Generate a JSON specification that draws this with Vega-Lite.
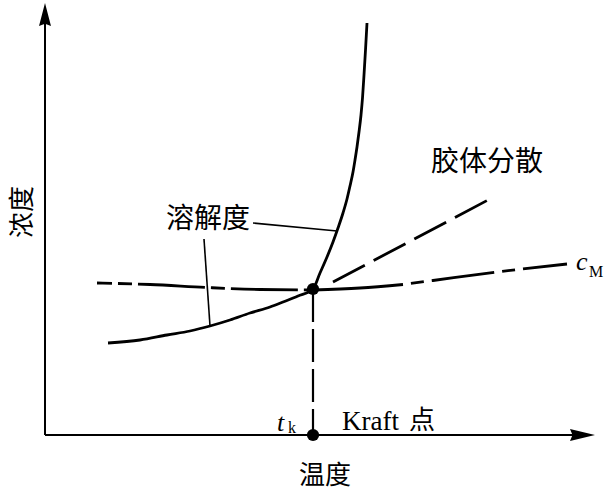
{
  "$schema": "https://vega.github.io/schema/vega-lite/v6.json",
  "width": 612,
  "height": 495,
  "padding": 0,
  "autosize": {"type": "fit", "contains": "padding"},
  "background": "white",
  "config": {"view": {"stroke": null}},
  "datasets": {
    "sol": [
      {"x": 108, "y": 343}, {"x": 140, "y": 340}, {"x": 167, "y": 335}, {"x": 190, "y": 331},
      {"x": 210, "y": 326}, {"x": 230, "y": 320}, {"x": 250, "y": 313}, {"x": 270, "y": 307},
      {"x": 283, "y": 302}, {"x": 298, "y": 296}, {"x": 313, "y": 289}, {"x": 320, "y": 273},
      {"x": 327, "y": 257}, {"x": 333, "y": 242}, {"x": 338, "y": 228}, {"x": 343, "y": 213},
      {"x": 347, "y": 199}, {"x": 350, "y": 186}, {"x": 353, "y": 172}, {"x": 355, "y": 160},
      {"x": 357, "y": 147}, {"x": 359, "y": 132}, {"x": 361, "y": 115}, {"x": 362.5, "y": 98},
      {"x": 364, "y": 75}, {"x": 365.5, "y": 50}, {"x": 367, "y": 23}
    ],
    "cm": [
      {"x": 97, "y": 283, "seg": "left"}, {"x": 150, "y": 284.5, "seg": "left"}, {"x": 207, "y": 287.5, "seg": "left"},
      {"x": 260, "y": 289.5, "seg": "left"}, {"x": 313, "y": 290, "seg": "left"},
      {"x": 313, "y": 290, "seg": "mid"}, {"x": 360, "y": 288, "seg": "mid"}, {"x": 403, "y": 284.5, "seg": "mid"},
      {"x": 403, "y": 284.5, "seg": "right"}, {"x": 433, "y": 280.5, "seg": "right"}, {"x": 497, "y": 272, "seg": "right"},
      {"x": 567, "y": 264, "seg": "right"}
    ],
    "colloid": [{"x": 333, "y": 282}, {"x": 488, "y": 200}],
    "rules": [
      {"x": 45, "y": 435, "x2": 45, "y2": 20, "kind": "axis"},
      {"x": 45, "y": 435, "x2": 575, "y2": 435, "kind": "axis"},
      {"x": 253, "y": 223, "x2": 337, "y2": 231, "kind": "leader"},
      {"x": 204, "y": 239, "x2": 210, "y2": 326, "kind": "leader"},
      {"x": 313, "y": 289, "x2": 313, "y2": 435, "kind": "drop"}
    ],
    "dots": [{"x": 313, "y": 289}, {"x": 313, "y": 435}],
    "arrowUp": [{"x": 45, "y": 14.5}],
    "arrowRight": [{"x": 582.5, "y": 435}],
    "ylab": [{"x": 23, "y": 212, "label": "浓度"}],
    "cjkBig": [
      {"x": 487, "y": 163, "label": "胶体分散"},
      {"x": 208, "y": 220, "label": "溶解度"}
    ],
    "cjkSmall": [
      {"x": 325, "y": 476, "label": "温度"},
      {"x": 422, "y": 421, "label": "点"}
    ],
    "roman": [{"x": 342, "y": 430, "label": "Kraft"}],
    "italic": [{"x": 576, "y": 270, "label": "c"}, {"x": 277, "y": 431, "label": "t"}],
    "subs": [{"x": 589, "y": 277, "label": "M"}, {"x": 288, "y": 433, "label": "k"}]
  },
  "encoding": {
    "x": {"field": "x", "type": "quantitative", "scale": {"domain": [0, 612], "nice": false, "zero": false}, "axis": null},
    "y": {"field": "y", "type": "quantitative", "scale": {"domain": [0, 495], "nice": false, "zero": false, "reverse": true}, "axis": null}
  },
  "layer": [
    {
      "data": {"name": "rules"},
      "transform": [{"filter": "datum.kind === 'axis'"}],
      "mark": {"type": "rule", "color": "black", "strokeWidth": 2},
      "encoding": {"x2": {"field": "x2"}, "y2": {"field": "y2"}}
    },
    {
      "data": {"name": "rules"},
      "transform": [{"filter": "datum.kind === 'leader'"}],
      "mark": {"type": "rule", "color": "black", "strokeWidth": 1.6},
      "encoding": {"x2": {"field": "x2"}, "y2": {"field": "y2"}}
    },
    {
      "data": {"name": "rules"},
      "transform": [{"filter": "datum.kind === 'drop'"}],
      "mark": {"type": "rule", "color": "black", "strokeWidth": 2.2, "strokeDash": [33, 7]},
      "encoding": {"x2": {"field": "x2"}, "y2": {"field": "y2"}}
    },
    {
      "data": {"name": "sol"},
      "mark": {"type": "line", "color": "black", "strokeWidth": 2.8, "interpolate": "monotone"}
    },
    {
      "data": {"name": "cm"},
      "transform": [{"filter": "datum.seg === 'left'"}],
      "mark": {"type": "line", "color": "black", "strokeWidth": 2.8, "interpolate": "monotone", "strokeDash": [67, 6, 14, 6], "strokeDashOffset": 52}
    },
    {
      "data": {"name": "cm"},
      "transform": [{"filter": "datum.seg === 'mid'"}],
      "mark": {"type": "line", "color": "black", "strokeWidth": 2.8, "interpolate": "monotone"}
    },
    {
      "data": {"name": "cm"},
      "transform": [{"filter": "datum.seg === 'right'"}],
      "mark": {"type": "line", "color": "black", "strokeWidth": 2.8, "interpolate": "monotone", "strokeDash": [63, 8, 13, 8], "strokeDashOffset": 63}
    },
    {
      "data": {"name": "colloid"},
      "mark": {"type": "line", "color": "black", "strokeWidth": 2.8, "strokeDash": [36, 10]}
    },
    {
      "data": {"name": "dots"},
      "mark": {"type": "point", "filled": true, "color": "black", "opacity": 1, "size": 150}
    },
    {
      "data": {"name": "arrowUp"},
      "mark": {"type": "point", "filled": true, "color": "black", "opacity": 1, "size": 529, "shape": "M0,-1L0.52,1L0,0.8L-0.52,1Z"}
    },
    {
      "data": {"name": "arrowRight"},
      "mark": {"type": "point", "filled": true, "color": "black", "opacity": 1, "size": 625, "shape": "M1,0L-1,-0.48L-0.8,0L-1,0.48Z"}
    },
    {
      "data": {"name": "ylab"},
      "mark": {"type": "text", "font": "Noto Sans CJK SC", "fontSize": 26, "angle": 270, "align": "center", "baseline": "middle", "color": "black"},
      "encoding": {"text": {"field": "label"}}
    },
    {
      "data": {"name": "cjkBig"},
      "mark": {"type": "text", "font": "Noto Sans CJK SC", "fontSize": 28, "align": "center", "baseline": "middle", "color": "black"},
      "encoding": {"text": {"field": "label"}}
    },
    {
      "data": {"name": "cjkSmall"},
      "mark": {"type": "text", "font": "Noto Sans CJK SC", "fontSize": 26, "align": "center", "baseline": "middle", "color": "black"},
      "encoding": {"text": {"field": "label"}}
    },
    {
      "data": {"name": "roman"},
      "mark": {"type": "text", "font": "Liberation Serif", "fontSize": 27, "align": "left", "baseline": "alphabetic", "color": "black"},
      "encoding": {"text": {"field": "label"}}
    },
    {
      "data": {"name": "italic"},
      "mark": {"type": "text", "font": "Liberation Serif", "fontStyle": "italic", "fontSize": 26, "align": "left", "baseline": "alphabetic", "color": "black"},
      "encoding": {"text": {"field": "label"}}
    },
    {
      "data": {"name": "subs"},
      "mark": {"type": "text", "font": "Liberation Serif", "fontSize": 16, "align": "left", "baseline": "alphabetic", "color": "black"},
      "encoding": {"text": {"field": "label"}}
    }
  ]
}
